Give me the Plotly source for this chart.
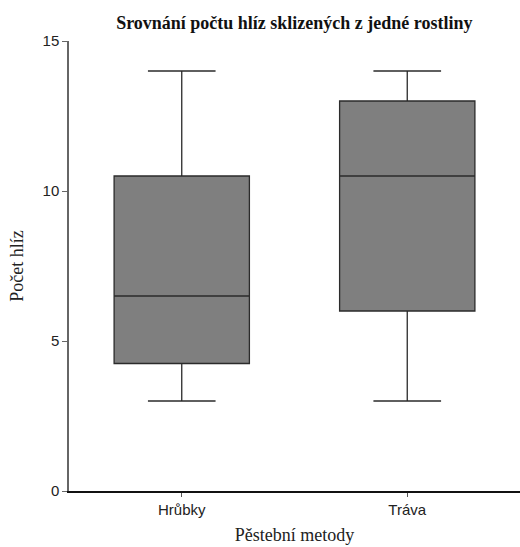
import plotly.graph_objects as go

# Tubers harvested per plant, by cultivation method (five-number summaries)
methods = ["Hrůbky", "Tráva"]
lower_whisker = [3, 3]
q1 = [4.25, 6]
median = [6.5, 10.5]
q3 = [10.5, 13]
upper_whisker = [14, 14]

y_ticks = [0, 5, 10, 15]

fig = go.Figure()
fig.add_trace(
    go.Box(
        x=methods,
        lowerfence=lower_whisker,
        q1=q1,
        median=median,
        q3=q3,
        upperfence=upper_whisker,
        width=0.6,
        fillcolor="#7f7f7f",
        line=dict(color="#2b2b2b", width=1.3),
        whiskerwidth=0.5,
        boxpoints=False,
        showlegend=False,
        hoverinfo="skip",
    )
)

fig.update_layout(
    width=520,
    height=547,
    margin=dict(l=69, r=0, t=41, b=56),
    paper_bgcolor="white",
    plot_bgcolor="white",
    title=dict(
        text="<b>Srovnání počtu hlíz sklizených z jedné rostliny</b>",
        font=dict(family="Liberation Serif", size=18, color="#111111"),
        x=0.566,
        xanchor="center",
        y=0.958,
        yanchor="middle",
    ),
    xaxis=dict(
        range=[-0.5, 1.5],
        showgrid=False,
        zeroline=False,
        showline=True,
        linecolor="#111111",
        linewidth=1.5,
        ticks="outside",
        ticklen=4,
        tickcolor="#555555",
        tickfont=dict(family="Liberation Sans", size=15, color="#222222"),
        title=dict(
            text="Pěstební metody",
            font=dict(family="Liberation Serif", size=18, color="#222222"),
            standoff=12,
        ),
    ),
    yaxis=dict(
        range=[0, 15],
        tickvals=y_ticks,
        showgrid=False,
        zeroline=False,
        showline=True,
        linecolor="#666666",
        linewidth=1.5,
        ticks="outside",
        ticklen=5,
        tickcolor="#666666",
        tickfont=dict(family="Liberation Sans", size=15, color="#222222"),
        title=dict(
            text="Počet hlíz",
            font=dict(family="Liberation Serif", size=18, color="#222222"),
            standoff=14,
        ),
    ),
)

fig.write_html("out.html")
